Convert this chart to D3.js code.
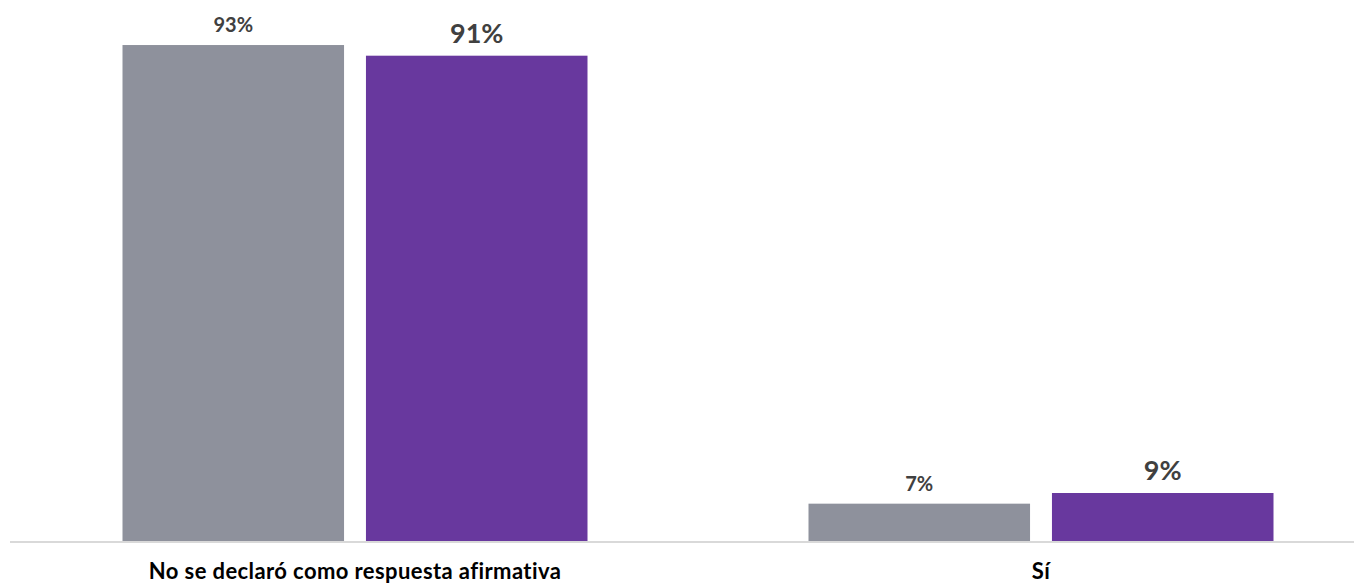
<!DOCTYPE html>
<html>
<head>
<meta charset="utf-8">
<script src="https://cdn.jsdelivr.net/npm/d3@7"></script>
<style>
  html, body { margin: 0; padding: 0; background: #ffffff; }
  svg { display: block; }
</style>
</head>
<body>
<script>
const categories = ["No se declaró como respuesta afirmativa", "Sí"];
const seriesNames = ["Serie 1", "Serie 2"];
const series1Values = [93, 7];
const series2Values = [91, 9];
const seriesColors = ["#8e919c", "#68389e"];

const W = 1354, H = 583;
const baseY = 541;

const svg = d3.select("body").append("svg").attr("width", W).attr("height", H);

const x0 = d3.scalePoint().domain(categories).range([355, 1041]);
const x1 = d3.scaleBand().domain(seriesNames).range([-232.5, 232.5]).paddingInner(0.09);
const y = d3.scaleLinear().domain([0, 100]).range([baseY, 7.7]);

const valuesBySeries = [series1Values, series2Values];
const data = [];
categories.forEach((c, ci) => {
  seriesNames.forEach((s, si) => {
    data.push({ cat: c, series: s, si, value: valuesBySeries[si][ci] });
  });
});

// baseline axis
svg.append("line")
  .attr("x1", 10).attr("x2", W)
  .attr("y1", baseY + 1).attr("y2", baseY + 1)
  .attr("stroke", "#d9d9d9").attr("stroke-width", 2);

svg.selectAll("rect.bar").data(data).enter().append("rect")
  .attr("class", "bar")
  .attr("x", d => x0(d.cat) + x1(d.series))
  .attr("width", x1.bandwidth())
  .attr("y", d => y(d.value))
  .attr("height", d => baseY - y(d.value))
  .attr("fill", d => seriesColors[d.si]);

svg.selectAll("text.val").data(data).enter().append("text")
  .attr("class", "val")
  .attr("x", d => x0(d.cat) + x1(d.series) + x1.bandwidth() / 2)
  .attr("y", d => y(d.value) - 13)
  .attr("text-anchor", "middle")
  .attr("font-family", "Lato, 'Open Sans', sans-serif")
  .attr("font-weight", 700)
  .attr("font-size", d => d.si === 0 ? "20px" : "27px")
  .attr("fill", "#404040")
  .text(d => d.value + "%");

svg.selectAll("text.cat").data(categories).enter().append("text")
  .attr("class", "cat")
  .attr("x", d => x0(d))
  .attr("y", 579)
  .attr("text-anchor", "middle")
  .attr("font-family", "Lato, 'Open Sans', sans-serif")
  .attr("font-weight", 700)
  .attr("font-size", "22px")
  .attr("letter-spacing", "0.4px")
  .attr("fill", "#000000")
  .text(d => d);
</script>
</body>
</html>
